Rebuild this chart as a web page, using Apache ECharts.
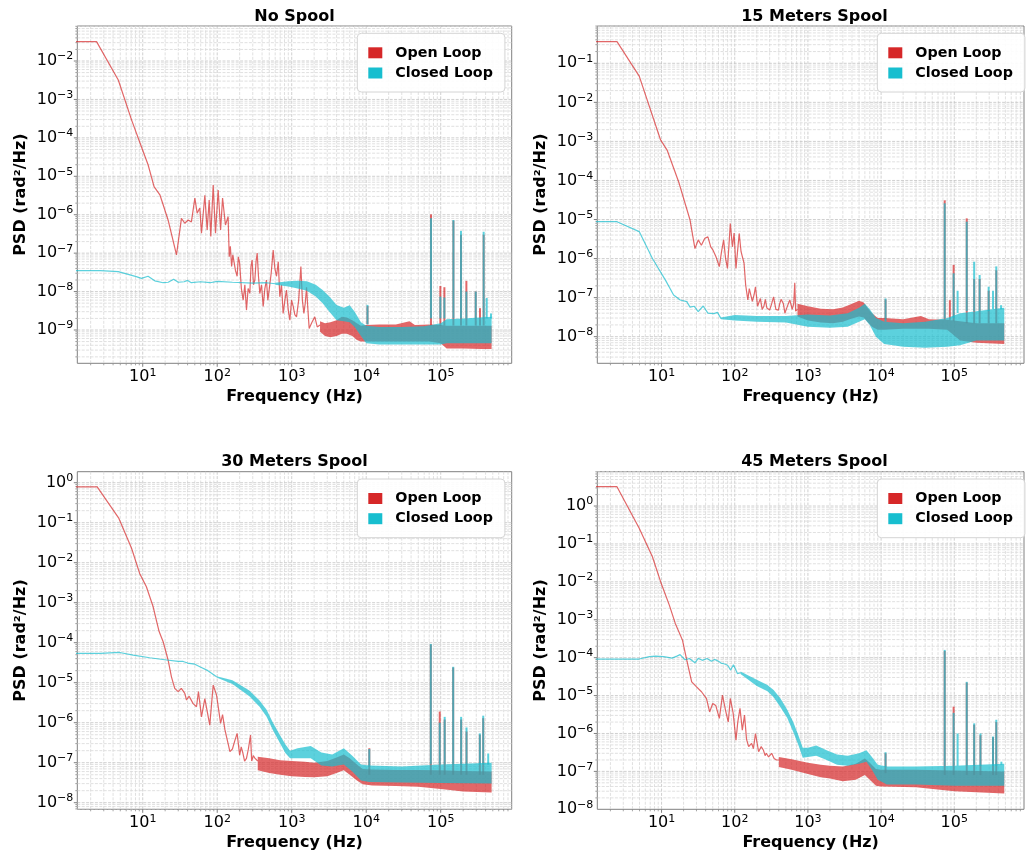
<!DOCTYPE html>
<html>
<head>
<meta charset="utf-8">
<script src="https://cdn.jsdelivr.net/npm/echarts@6.0.0/dist/echarts.min.js"></script>
<style>
  html, body { margin: 0; padding: 0; background: #ffffff; }
  #chart { width: 1027px; height: 856px; }
</style>
</head>
<body>
<div id="chart"></div>
<script>
// ---------------- data ----------------
const PANEL_TITLES = ['No Spool', '15 Meters Spool', '30 Meters Spool', '45 Meters Spool'];
const SERIES_NAMES = ['Open Loop', 'Closed Loop'];

// tick exponents (decades) and minor multipliers
const X_DECADES = [0, 1, 2, 3, 4, 5];
const Y_DECADES = [
  [-10, -9, -8, -7, -6, -5, -4, -3, -2],
  [-9, -8, -7, -6, -5, -4, -3, -2, -1],
  [-9, -8, -7, -6, -5, -4, -3, -2, -1, 0],
  [-8, -7, -6, -5, -4, -3, -2, -1, 0]
];
const MINOR_STEPS = [2, 3, 4, 5, 6, 7, 8, 9];

// ---- No Spool ----
// thin trace: [frequency Hz, PSD]
const noSpoolOpenLine = [
  [1, 3.2e-2], [2.4, 3.2e-2], [4.7, 3.2e-3], [7.1, 2.9e-4], [9.6, 5.9e-5], [11.8, 2.0e-5],
  [14.2, 5.4e-6], [17, 3.3e-6], [21.9, 7.3e-7], [28.4, 9.0e-8], [33.1, 8.0e-7], [36.7, 6.0e-7],
  [40.7, 7.3e-7], [45, 6.5e-7], [50.1, 2.7e-6], [53.8, 1.1e-6], [58.4, 1.5e-6], [61.5, 3.3e-7],
  [68.2, 3.2e-6], [73.3, 4.0e-7], [78, 2.4e-6], [82, 2.7e-7], [88.3, 5.9e-6], [94.8, 3.3e-7],
  [103, 4.4e-6], [111, 4.0e-7], [118, 2.7e-6], [129, 5.4e-7], [140, 8.9e-7], [145, 8.1e-8],
  [150, 1.5e-7], [156, 4.5e-8], [162, 9e-8], [169, 1.0e-7], [176, 3.5e-8], [185, 2.5e-8],
  [192, 8e-8], [200, 5.5e-8], [211, 1.2e-8], [223, 6.0e-9], [235, 1.5e-8], [247, 3.3e-9],
  [260, 1.2e-8], [274, 9.0e-9], [284, 4.5e-8], [294, 6.6e-8], [307, 1.5e-8], [320, 2.0e-8],
  [332, 6e-8], [344, 1.0e-7], [358, 2.5e-8], [373, 9.0e-9], [393, 1.5e-8], [414, 4.1e-9],
  [436, 1.2e-8], [458, 2.0e-8], [478, 6e-9], [498, 1.1e-8], [530, 3e-8], [564, 1.2e-7],
  [594, 4e-8], [625, 2.5e-8], [660, 6e-8], [692, 7.4e-9], [730, 1.5e-8], [767, 2.7e-9],
  [810, 6e-9], [851, 1.1e-8], [895, 3.5e-9], [944, 1.8e-9], [995, 6e-9], [1047, 4.1e-9],
  [1100, 2.5e-9], [1160, 2.2e-9], [1240, 6e-9], [1327, 4.5e-8], [1390, 6e-9], [1456, 2.7e-9],
  [1520, 5e-9], [1581, 1.3e-8], [1640, 4e-9], [1715, 1.1e-9], [1870, 1.6e-9], [2042, 2.2e-9],
  [2200, 1.2e-9], [2400, 1.35e-9]
];
// noisy part: [frequency Hz, lower envelope, upper envelope]
const noSpoolOpenBand = [
  [2400, 9e-10, 1.7e-9], [2800, 7e-10, 1.5e-9], [3300, 6.5e-10, 1.6e-9], [4000, 7e-10, 1.8e-9],
  [4700, 8e-10, 2.2e-9], [5500, 8e-10, 2.1e-9], [6500, 7e-10, 1.8e-9], [7500, 5.5e-10, 1.5e-9],
  [8500, 5e-10, 1.3e-9], [10000, 5e-10, 1.35e-9], [15000, 5e-10, 1.4e-9], [25000, 5e-10, 1.4e-9],
  [38000, 5e-10, 1.7e-9], [45000, 5e-10, 1.35e-9], [70000, 5e-10, 1.4e-9], [100000, 4.5e-10, 1.35e-9],
  [120000, 3.3e-10, 1.3e-9], [200000, 3.3e-10, 1.3e-9], [350000, 3.2e-10, 1.3e-9], [482000, 3.2e-10, 1.3e-9]
];
// narrow lines: [frequency Hz, base, peak]
const noSpoolOpenSpikes = [
  [10400, 1.4e-9, 4.2e-9], [74100, 1.3e-9, 1.02e-6], [98900, 1.3e-9, 1.4e-8], [112000, 1.3e-9, 1.3e-8],
  [148000, 1.3e-9, 7.0e-7], [187000, 1.3e-9, 3.0e-7], [221000, 1.3e-9, 1.9e-8], [295000, 1.3e-9, 1.0e-8],
  [337000, 1.3e-9, 3.7e-9], [377000, 1.3e-9, 3.0e-7]
];
const noSpoolClosedLine = [
  [1, 3.5e-8], [2.7, 3.5e-8], [4.7, 3.3e-8], [8.2, 2.45e-8], [9.6, 2.2e-8], [11.8, 2.5e-8],
  [14.5, 1.9e-8], [18.8, 1.7e-8], [22, 1.75e-8], [26, 2.1e-8], [30, 1.75e-8], [36, 1.8e-8],
  [40, 1.95e-8], [45, 1.7e-8], [60, 1.8e-8], [80, 1.7e-8], [100, 1.85e-8], [160, 1.75e-8],
  [300, 1.65e-8], [460, 1.7e-8], [600, 1.6e-8]
];
const noSpoolClosedBand = [
  [600, 1.5e-8, 1.7e-8], [900, 1.35e-8, 1.85e-8], [1200, 1.2e-8, 1.9e-8], [1600, 1.05e-8, 1.85e-8],
  [2100, 7.5e-9, 1.5e-8], [2600, 5e-9, 1.1e-8], [3200, 3e-9, 7.5e-9], [4000, 1.8e-9, 4.5e-9],
  [5000, 1.7e-9, 3.8e-9], [6000, 1.6e-9, 4.4e-9], [7000, 1.2e-9, 3.0e-9], [8500, 7e-10, 1.6e-9],
  [10000, 4.5e-10, 1.3e-9], [15000, 4.2e-10, 1.2e-9], [30000, 4.2e-10, 1.2e-9], [60000, 4.2e-10, 1.25e-9],
  [100000, 4.2e-10, 1.5e-9], [120000, 4.5e-10, 1.9e-9], [200000, 4.5e-10, 2.0e-9], [482000, 4.5e-10, 2.2e-9]
];
const noSpoolClosedSpikes = [
  [10400, 1.4e-9, 4.5e-9], [74100, 2e-9, 8.1e-7], [98900, 2e-9, 7.4e-9], [112000, 2e-9, 7e-9],
  [148000, 2e-9, 7.3e-7], [187000, 2e-9, 3.8e-7], [221000, 2e-9, 1.0e-8], [295000, 2e-9, 1.0e-8],
  [377000, 2e-9, 3.6e-7], [414000, 2e-9, 6.8e-9], [473000, 2e-9, 2.7e-9]
];

// ---- 15 Meters Spool ----
const m15OpenLine = [
  [1, 0.36], [2.46, 0.36], [4.95, 0.047], [9.7, 1.09e-3], [11.9, 6.0e-4], [17.1, 9.3e-5],
  [24.5, 9.7e-6], [28.6, 1.8e-6], [31.7, 3.0e-6], [35, 2.2e-6], [39, 3.3e-6], [43, 3.6e-6],
  [47, 2.0e-6], [50, 1.7e-6], [55.6, 1.1e-6], [61.6, 6.2e-7], [66, 1.5e-6], [70.5, 3.0e-6],
  [75, 1.0e-6], [79.6, 5.6e-7], [87, 7.9e-6], [93, 2.0e-6], [98, 4.5e-6], [104, 5.6e-7],
  [115, 4.4e-6], [122, 1.5e-6], [134, 7.6e-7], [141, 2.1e-7], [151, 8.7e-8], [158, 1.7e-7],
  [164, 1.6e-7], [174, 8.0e-8], [184, 1.2e-7], [192, 1.9e-7], [205, 6e-8], [224, 9.5e-8],
  [237, 5e-8], [250, 6e-8], [262, 9e-8], [275, 5.4e-8], [300, 4.8e-8], [320, 7e-8], [339, 1.05e-7],
  [365, 5e-8], [395, 4.8e-8], [412, 7e-8], [430, 9e-8], [461, 7.1e-8], [485, 4e-8], [510, 4.5e-8],
  [540, 7e-8], [566, 8.7e-8], [610, 5e-8], [640, 7e-8], [661, 2.4e-7], [680, 4.5e-8], [720, 5e-8]
];
const m15OpenBand = [
  [720, 3.3e-8, 7e-8], [1000, 2.6e-8, 6.0e-8], [1500, 2.3e-8, 5.2e-8], [2200, 2.2e-8, 5.0e-8],
  [3000, 2.4e-8, 5.6e-8], [4000, 2.9e-8, 7.0e-8], [5000, 3.3e-8, 8.3e-8], [5800, 3.1e-8, 7.5e-8],
  [6500, 2.4e-8, 5.5e-8], [7500, 1.8e-8, 4e-8], [9000, 1.5e-8, 3.0e-8], [11000, 1.5e-8, 3.0e-8],
  [20000, 1.6e-8, 2.8e-8], [35000, 1.6e-8, 3.4e-8], [45000, 1.6e-8, 2.8e-8], [80000, 1.5e-8, 2.7e-8],
  [120000, 8e-9, 2.5e-8], [200000, 7e-9, 2.2e-8], [482000, 6.5e-9, 2.2e-8]
];
const m15OpenSpikes = [
  [11500, 2.8e-8, 9e-8], [74000, 2.7e-8, 3.1e-5], [87000, 2.7e-8, 8.6e-8], [98000, 2.5e-8, 6.9e-7],
  [148000, 2.2e-8, 1.07e-5], [187000, 2.2e-8, 3e-7], [222000, 2.2e-8, 3e-7], [295000, 2.2e-8, 1.5e-7],
  [375000, 2.2e-8, 5e-7]
];
const m15ClosedLine = [
  [1, 8.8e-6], [2.46, 8.8e-6], [4.95, 4.9e-6], [7.5, 1.0e-6], [11.3, 2.8e-7], [14.6, 1.17e-7],
  [18, 8.7e-8], [22.1, 7.9e-8], [24.5, 5.7e-8], [28, 6.0e-8], [31.7, 4.4e-8], [37, 6.1e-8],
  [43, 4.0e-8], [52, 3.9e-8], [58, 4.2e-8], [65, 2.9e-8]
];
const m15ClosedBand = [
  [65, 2.8e-8, 3.1e-8], [100, 2.6e-8, 3.6e-8], [200, 2.4e-8, 3.4e-8], [500, 2.3e-8, 3.4e-8],
  [1000, 1.8e-8, 3.7e-8], [2000, 1.7e-8, 3.5e-8], [3500, 1.8e-8, 4.0e-8], [5000, 2.4e-8, 5.5e-8],
  [6000, 2.8e-8, 7.0e-8], [7000, 2.0e-8, 5.0e-8], [8500, 1.0e-8, 3.0e-8], [11000, 6.5e-9, 2.4e-8],
  [20000, 5.5e-9, 2.2e-8], [40000, 5.2e-9, 2.4e-8], [80000, 5.5e-9, 3.0e-8], [120000, 6e-9, 4e-8],
  [200000, 8e-9, 4.5e-8], [482000, 8e-9, 5.5e-8]
];
const m15ClosedSpikes = [
  [11500, 2.4e-8, 9.5e-8], [74000, 3e-8, 2.6e-5], [98000, 3e-8, 4.2e-7], [111000, 4e-8, 1.5e-7],
  [148000, 4.5e-8, 8.8e-6], [187000, 4.5e-8, 8.3e-7], [222000, 4.5e-8, 3.8e-7], [295000, 4.5e-8, 1.9e-7],
  [338000, 5e-8, 1.5e-7], [375000, 5e-8, 6.3e-7], [436000, 5e-8, 6.4e-8]
];

// ---- 30 Meters Spool ----
const m30OpenLine = [
  [1, 0.79], [2.45, 0.79], [4.79, 0.128], [7.08, 0.0229], [9.1, 5.4e-3], [11.2, 2.5e-3],
  [13.8, 7.9e-4], [16.6, 1.9e-4], [18.8, 1.06e-4], [21.9, 3.7e-5], [24.3, 1.4e-5], [26.9, 7.2e-6],
  [29.9, 6.0e-6], [33, 7.2e-6], [36.7, 5.4e-6], [38.7, 3.7e-6], [42, 4.6e-6], [47.5, 3.0e-6],
  [52.7, 2.5e-6], [56, 6.0e-6], [61.5, 1.4e-6], [68.2, 4.0e-6], [72, 4.3e-6], [79.4, 8.7e-7],
  [88.3, 8.7e-6], [98, 4.9e-6], [104, 5.2e-6], [111, 9.6e-7], [118, 1.6e-6], [127, 6.6e-7],
  [140, 3.0e-7], [148, 1.9e-7], [160, 2.2e-7], [172, 3.5e-7], [185, 5.4e-7], [200, 1.55e-7],
  [210, 2.5e-7], [220, 1.8e-7], [233, 1.1e-7], [247, 1.28e-7], [262, 2.2e-7], [280, 4.9e-7],
  [290, 1.1e-7], [305, 1.5e-7], [320, 1.3e-7], [350, 1.1e-7]
];
const m30OpenBand = [
  [350, 6.5e-8, 1.4e-7], [500, 5.5e-8, 1.3e-7], [700, 5e-8, 1.15e-7], [1000, 4.6e-8, 1.1e-7],
  [1500, 4.4e-8, 1.05e-7], [2000, 4.3e-8, 1.0e-7], [3000, 4.6e-8, 1.1e-7], [4000, 5.5e-8, 1.35e-7],
  [5000, 6.5e-8, 1.6e-7], [6000, 5e-8, 1.3e-7], [7500, 3.6e-8, 9e-8], [9000, 2.9e-8, 7e-8],
  [12000, 2.7e-8, 6.8e-8], [25000, 2.6e-8, 6.6e-8], [50000, 2.5e-8, 6.6e-8], [100000, 2.2e-8, 6.5e-8],
  [200000, 1.9e-8, 6.2e-8], [482000, 1.8e-8, 6e-8]
];
const m30OpenSpikes = [
  [11000, 5e-8, 2.3e-7], [73600, 5e-8, 9.0e-5], [97000, 5e-8, 1.9e-6], [113000, 5e-8, 1.2e-6],
  [147000, 5e-8, 2.4e-5], [188000, 5e-8, 1.2e-6], [222000, 5e-8, 6e-7], [335000, 5e-8, 5e-7],
  [372000, 5e-8, 1.3e-6]
];
const m30ClosedLine = [
  [1, 5.4e-5], [2.7, 5.4e-5], [4.9, 5.7e-5], [7.45, 4.9e-5], [12.4, 4.2e-5], [20.9, 3.7e-5],
  [30, 3.4e-5], [34.9, 3.4e-5], [37, 3.6e-5], [40, 3.1e-5], [50, 2.9e-5], [58.4, 2.5e-5],
  [75, 2.0e-5], [98, 1.4e-5]
];
const m30ClosedBand = [
  [98, 1.35e-5, 1.45e-5], [160, 9.3e-6, 1.15e-5], [270, 4.6e-6, 6.4e-6], [370, 2.5e-6, 3.6e-6],
  [460, 1.4e-6, 2.1e-6], [560, 6.5e-7, 1.0e-6], [700, 3.0e-7, 4.8e-7], [820, 1.75e-7, 2.9e-7],
  [950, 1.3e-7, 2.0e-7], [1200, 1.3e-7, 2.3e-7], [1800, 1.3e-7, 2.6e-7], [2500, 8.5e-8, 1.8e-7],
  [3500, 8e-8, 1.6e-7], [5000, 9e-8, 2.3e-7], [6500, 6e-8, 1.5e-7], [8500, 3.6e-8, 9e-8],
  [11000, 3.3e-8, 8.5e-8], [30000, 3.2e-8, 8e-8], [100000, 3.1e-8, 9e-8], [482000, 3.0e-8, 1.0e-7]
];
const m30ClosedSpikes = [
  [11000, 8e-8, 2.2e-7], [73600, 9e-8, 9.3e-5], [97000, 9e-8, 1.0e-6], [113000, 9e-8, 1.4e-6],
  [147000, 9e-8, 2.5e-5], [188000, 9e-8, 1.4e-6], [222000, 9e-8, 7.6e-7], [335000, 9e-8, 5.4e-7],
  [372000, 9e-8, 1.5e-6], [434000, 9e-8, 1.7e-7]
];

// ---- 45 Meters Spool ----
const m45OpenLine = [
  [1, 3.24], [2.46, 3.24], [4.95, 0.258], [7.5, 0.046], [9.7, 0.0101], [12.8, 2.4e-3],
  [15.4, 8.0e-4], [19.3, 2.9e-4], [22.1, 8.6e-5], [25.8, 2.3e-5], [30.1, 1.7e-5], [35.1, 1.26e-5],
  [41, 8.4e-6], [45.4, 3.7e-6], [50, 6.2e-6], [55, 5.5e-6], [61.6, 2.5e-6], [68, 1.03e-5],
  [75, 4.0e-6], [81.6, 2.0e-6], [87, 8.4e-6], [95, 3.5e-6], [104, 6.7e-7], [110, 2e-6],
  [118, 4.6e-6], [127, 1.23e-6], [136, 3.05e-6], [145, 7e-7], [155, 4.5e-7], [170, 5.5e-7],
  [180, 4e-7], [192, 1.0e-6], [212, 3.3e-7], [230, 4.5e-7], [247, 3.6e-7], [260, 2.6e-7],
  [270, 3e-7], [290, 2.4e-7], [320, 3e-7], [345, 2.2e-7], [373, 2.0e-7], [400, 2.0e-7]
];
const m45OpenBand = [
  [400, 1.3e-7, 2.4e-7], [600, 1.1e-7, 2.1e-7], [1000, 8.5e-8, 1.7e-7], [1500, 7e-8, 1.5e-7],
  [2000, 6.5e-8, 1.4e-7], [3000, 5.5e-8, 1.35e-7], [4500, 6e-8, 1.6e-7], [6000, 8e-8, 2.2e-7],
  [7000, 6e-8, 1.7e-7], [8500, 4.2e-8, 1.15e-7], [10000, 4e-8, 1.1e-7], [30000, 3.8e-8, 1.1e-7],
  [100000, 3e-8, 1.05e-7], [482000, 2.6e-8, 1.0e-7]
];
const m45OpenSpikes = [
  [11500, 9e-8, 3e-7], [74000, 8e-8, 1.5e-4], [98000, 8e-8, 5.1e-6], [148000, 8e-8, 2.2e-5],
  [187000, 8e-8, 1.7e-6], [228000, 8e-8, 9e-7], [338000, 8e-8, 8e-7], [375000, 8e-8, 2.0e-6]
];
const m45ClosedLine = [
  [1, 9.2e-5], [4.95, 9.2e-5], [6.8, 1.06e-4], [8.3, 1.1e-4], [10.7, 1.06e-4], [13.9, 9.7e-5],
  [16.2, 1.1e-4], [17.9, 1.2e-4], [20.9, 8.8e-5], [24, 9.5e-5], [28.6, 7.3e-5], [31.7, 9.6e-5],
  [36, 8.5e-5], [42, 9.5e-5], [48, 8e-5], [53, 9.0e-5], [60, 8e-5], [65, 7.2e-5], [73, 6.8e-5],
  [80, 6.3e-5], [88, 4.7e-5], [96, 6.5e-5], [109, 3.8e-5], [120, 4.0e-5]
];
const m45ClosedBand = [
  [120, 3.7e-5, 4.3e-5], [200, 1.8e-5, 2.6e-5], [280, 1.3e-5, 1.9e-5], [340, 9e-6, 1.4e-5],
  [420, 5e-6, 8.5e-6], [520, 2.6e-6, 4.3e-6], [630, 1.1e-6, 2.0e-6], [740, 5e-7, 9e-7],
  [850, 2.3e-7, 4.2e-7], [1000, 2.4e-7, 4.2e-7], [1300, 2.6e-7, 4.8e-7], [1800, 2.0e-7, 3.6e-7],
  [2500, 1.5e-7, 2.8e-7], [3500, 1.4e-7, 2.6e-7], [5000, 1.6e-7, 3.0e-7], [6300, 1.8e-7, 3.6e-7],
  [7500, 1.1e-7, 2.4e-7], [9000, 6e-8, 1.5e-7], [12000, 4.5e-8, 1.35e-7], [30000, 4.5e-8, 1.35e-7],
  [100000, 4.2e-8, 1.4e-7], [482000, 4.2e-8, 1.6e-7]
];
const m45ClosedSpikes = [
  [11500, 1.3e-7, 3.2e-7], [74000, 1.4e-7, 1.6e-4], [98000, 1.4e-7, 3.5e-6], [111000, 1.4e-7, 1.0e-6],
  [148000, 1.4e-7, 2.3e-5], [187000, 1.4e-7, 1.85e-6], [228000, 1.4e-7, 1.0e-6], [338000, 1.4e-7, 8.3e-7],
  [375000, 1.4e-7, 2.3e-6], [440000, 1.5e-7, 1.8e-7]
];

// ---------------- axes & layout ----------------
const FREQ_LIMITS = [1.324, 8.97e5];
const PSD_LIMITS = [[1.36e-10, 0.0815], [2.08e-9, 0.902], [6.84e-9, 1.884], [1e-8, 8.04]];
const PANEL_BOXES = [
  { left: 77.3, top: 26, width: 434.4, height: 337.3 },
  { left: 597.3, top: 26, width: 434.4, height: 337.3 },
  { left: 77.3, top: 471.7, width: 434.4, height: 337.6 },
  { left: 597.3, top: 471.7, width: 434.4, height: 337.6 }
];

const panels = [
  { open: [noSpoolOpenLine, noSpoolOpenBand, noSpoolOpenSpikes], closed: [noSpoolClosedLine, noSpoolClosedBand, noSpoolClosedSpikes] },
  { open: [m15OpenLine, m15OpenBand, m15OpenSpikes], closed: [m15ClosedLine, m15ClosedBand, m15ClosedSpikes] },
  { open: [m30OpenLine, m30OpenBand, m30OpenSpikes], closed: [m30ClosedLine, m30ClosedBand, m30ClosedSpikes] },
  { open: [m45OpenLine, m45OpenBand, m45OpenSpikes], closed: [m45ClosedLine, m45ClosedBand, m45ClosedSpikes] }
];

const FONT = '"DejaVu Sans", "Liberation Sans", sans-serif';
const RED = '#d62728';
const TEAL = '#17becf';
const TRACE_ALPHA = 0.7;
const GRID_MAJOR = '#c4c4c4';
const GRID_MINOR = '#d8d8d8';
const SPINE = '#808080';

// tick label "10^n" with a raised exponent
function powerLabel(value) {
  const e = Math.log10(value);
  const r = Math.round(e);
  if (Math.abs(e - r) > 1e-6) return '';
  return '{b|10}{s|' + (r < 0 ? '\u2212' + (-r) : String(r)) + '}';
}
const LABEL_RICH = {
  b: { fontFamily: FONT, fontSize: 16, color: '#000' },
  s: { fontFamily: FONT, fontSize: 11, color: '#000', padding: [0, 0, 9, 0] }
};

// gridline positions from the decade lists
function gridValues(decades, lo, hi) {
  const out = [];
  decades.forEach(d => {
    [1].concat(MINOR_STEPS).forEach(m => {
      const v = m * Math.pow(10, d);
      if (v >= lo * 1.0001 && v <= hi / 1.0001) out.push([v, m === 1 ? 1 : 0]);
    });
  });
  return out;
}

// ---------------- renderers ----------------
function renderXGrid(params, api) {
  const cs = params.coordSys;
  const x = api.coord([api.value(0), api.value(1)])[0];
  const major = api.value(2) === 1;
  const bottom = cs.y + cs.height;
  return {
    type: 'group',
    children: [
      { type: 'line', shape: { x1: x, y1: cs.y, x2: x, y2: bottom },
        style: { stroke: major ? GRID_MAJOR : GRID_MINOR, lineWidth: 0.8, lineDash: [3, 1.4] } },
      { type: 'line', shape: { x1: x, y1: bottom, x2: x, y2: bottom + (major ? 3.5 : 2) },
        style: { stroke: SPINE, lineWidth: major ? 1 : 0.7 } }
    ]
  };
}
function renderYGrid(params, api) {
  const cs = params.coordSys;
  const y = api.coord([api.value(0), api.value(1)])[1];
  const major = api.value(2) === 1;
  return {
    type: 'group',
    children: [
      { type: 'line', shape: { x1: cs.x, y1: y, x2: cs.x + cs.width, y2: y },
        style: { stroke: major ? GRID_MAJOR : GRID_MINOR, lineWidth: 0.8, lineDash: [3, 1.4] } },
      { type: 'line', shape: { x1: cs.x, y1: y, x2: cs.x - (major ? 3.5 : 2), y2: y },
        style: { stroke: SPINE, lineWidth: major ? 1 : 0.7 } }
    ]
  };
}
function bandRenderer(band, color) {
  return function (params, api) {
    if (params.dataIndex !== 0) return null;
    const upper = band.map(p => api.coord([p[0], p[2]]));
    const lower = band.map(p => api.coord([p[0], p[1]])).reverse();
    return { type: 'polygon', shape: { points: upper.concat(lower) },
      style: { fill: color, opacity: TRACE_ALPHA } };
  };
}
function renderSpike(color) {
  return function (params, api) {
    const a = api.coord([api.value(0), api.value(1)]);
    const b = api.coord([api.value(0), api.value(2)]);
    return { type: 'line', shape: { x1: a[0], y1: a[1], x2: b[0], y2: b[1] },
      style: { stroke: color, lineWidth: 2, opacity: TRACE_ALPHA } };
  };
}

// ---------------- option ----------------
const grid = [], xAxis = [], yAxis = [], series = [], legend = [], graphic = [];

PANEL_BOXES.forEach((box, i) => {
  grid.push({ left: box.left, top: box.top, width: box.width, height: box.height,
    show: true, borderColor: SPINE, borderWidth: 1, backgroundColor: '#ffffff' });

  xAxis.push({
    type: 'log', gridIndex: i, min: FREQ_LIMITS[0], max: FREQ_LIMITS[1],
    axisLine: { show: false }, axisTick: { show: false }, splitLine: { show: false },
    axisLabel: { formatter: powerLabel, margin: 4, color: '#000', rich: LABEL_RICH },
    name: 'Frequency (Hz)', nameLocation: 'middle', nameGap: 26, nameMoveOverlap: false,
    nameTextStyle: { fontFamily: FONT, fontWeight: 'bold', fontSize: 16, color: '#000' }
  });
  yAxis.push({
    type: 'log', gridIndex: i, min: PSD_LIMITS[i][0], max: PSD_LIMITS[i][1],
    axisLine: { show: false }, axisTick: { show: false }, splitLine: { show: false },
    axisLabel: { formatter: powerLabel, margin: 4, color: '#000', rich: LABEL_RICH },
    name: 'PSD (rad\u00b2/Hz)', nameLocation: 'middle', nameGap: 48.5, nameMoveOverlap: false,
    nameTextStyle: { fontFamily: FONT, fontWeight: 'bold', fontSize: 16, color: '#000' }
  });

  const axes = { xAxisIndex: i, yAxisIndex: i };
  const p = panels[i];

  // background grid with ticks
  series.push(Object.assign({ type: 'custom', z: 1, silent: true, renderItem: renderXGrid,
    data: gridValues(X_DECADES, FREQ_LIMITS[0], FREQ_LIMITS[1]).map(g => [g[0], PSD_LIMITS[i][0], g[1]]) }, axes));
  series.push(Object.assign({ type: 'custom', z: 1, silent: true, renderItem: renderYGrid,
    data: gridValues(Y_DECADES[i], PSD_LIMITS[i][0], PSD_LIMITS[i][1]).map(g => [FREQ_LIMITS[0], g[0], g[1]]) }, axes));

  // Open Loop (drawn first) then Closed Loop on top
  [[SERIES_NAMES[0], p.open, RED, 2], [SERIES_NAMES[1], p.closed, TEAL, 4]].forEach(([name, parts, color, z]) => {
    series.push(Object.assign({ name, type: 'custom', z, itemStyle: { color },
      renderItem: bandRenderer(parts[1], color), data: parts[1] }, axes));
    series.push(Object.assign({ name, type: 'line', z, data: parts[0], symbol: 'none', smooth: false,
      clip: true, itemStyle: { color }, lineStyle: { color, width: 1.2, opacity: TRACE_ALPHA } }, axes));
    series.push(Object.assign({ name, type: 'custom', z, itemStyle: { color },
      renderItem: renderSpike(color), data: parts[2] }, axes));
  });

  legend.push({
    left: box.left + 280, top: box.top + 7.3, orient: 'vertical', icon: 'rect',
    itemWidth: 14, itemHeight: 11, itemGap: 6.2, selectedMode: false,
    data: [{ name: SERIES_NAMES[0], itemStyle: { color: RED } }, { name: SERIES_NAMES[1], itemStyle: { color: TEAL } }],
    textStyle: { fontFamily: FONT, fontWeight: 'bold', fontSize: 14.3, color: '#000', padding: [0, 0, 0, 8] },
    backgroundColor: 'rgba(255,255,255,0.9)', borderColor: '#d4d4d4', borderWidth: 1, borderRadius: 4,
    padding: [12.5, 12, 12, 11]
  });

  graphic.push({ type: 'text', x: box.left + box.width / 2, y: box.top - 9.5,
    style: { text: PANEL_TITLES[i], font: 'bold 16px ' + FONT, fill: '#000',
      align: 'center', verticalAlign: 'middle', textAlign: 'center', textVerticalAlign: 'middle' } });
});

const chart = echarts.init(document.getElementById('chart'), null, { renderer: 'canvas' });
chart.setOption({ animation: false, backgroundColor: '#ffffff', grid, xAxis, yAxis, series, legend, graphic });
</script>
</body>
</html>
